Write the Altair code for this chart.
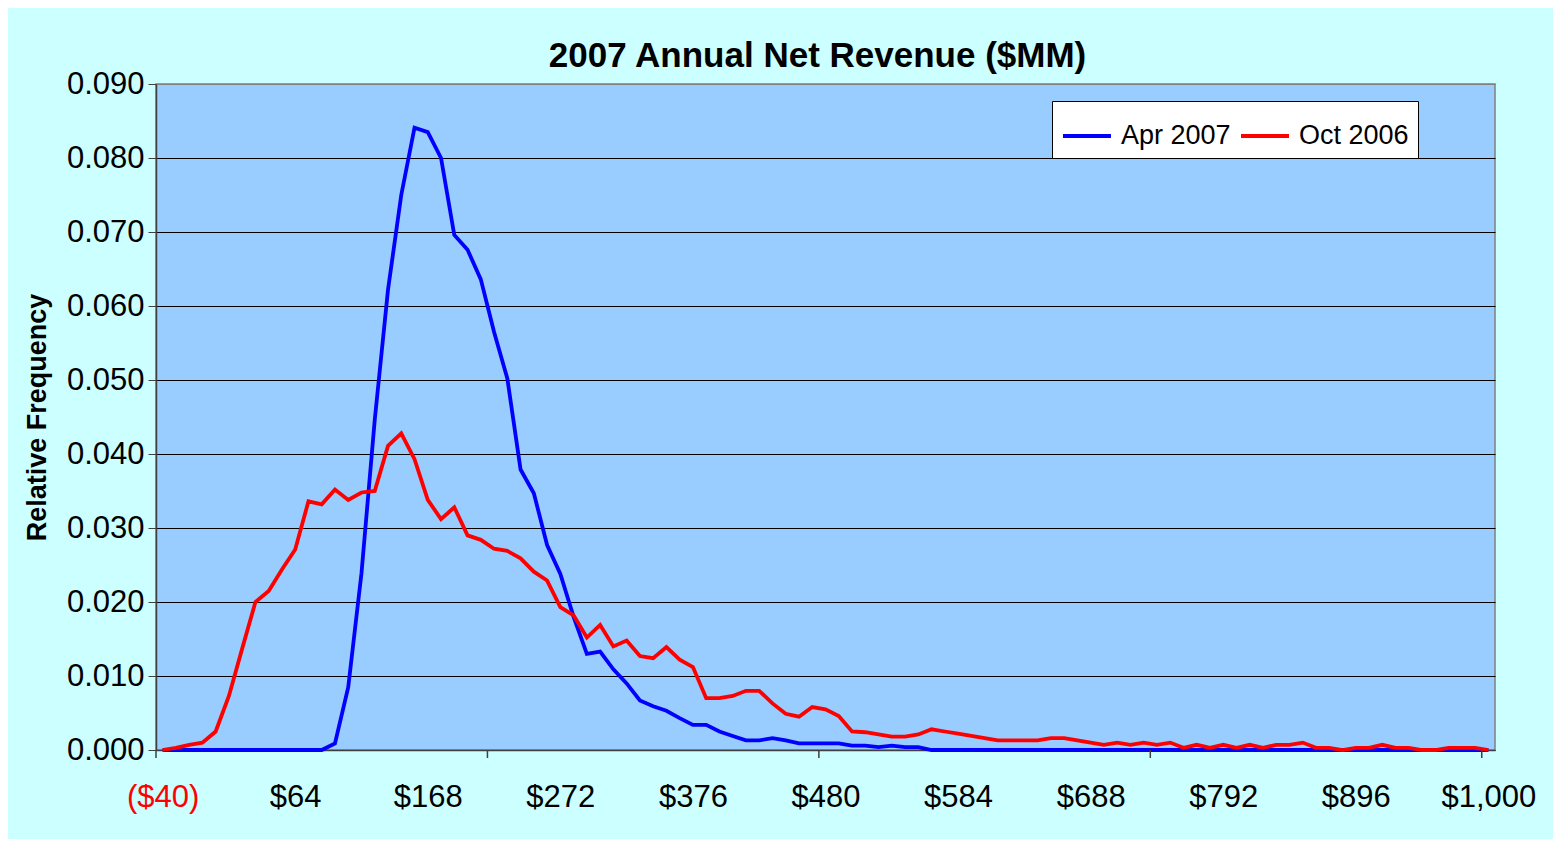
import altair as alt
import pandas as pd

# 101 Excel category bins, $10.4MM wide, starting at ($40)
bins = [round(-40 + 10.4 * i, 1) for i in range(101)]

apr_2007 = [
    0, 0, 0, 0, 0, 0, 0, 0, 0, 0,
    0, 0, 0, 0.0009, 0.0085, 0.0239, 0.0446, 0.0622, 0.0750, 0.0841,
    0.0835, 0.0800, 0.0696, 0.0676, 0.0636, 0.0565, 0.0502, 0.0379, 0.0347, 0.0277,
    0.0238, 0.0180, 0.0130, 0.0133, 0.0109, 0.0090, 0.0067, 0.0059, 0.0053, 0.0043,
    0.0034, 0.0034, 0.0025, 0.0019, 0.0013, 0.0013, 0.0016, 0.0013, 0.0009, 0.0009,
    0.0009, 0.0009, 0.0006, 0.0006, 0.0004, 0.0006, 0.0004, 0.0004, 0, 0,
    0, 0, 0, 0, 0, 0, 0, 0, 0, 0,
    0, 0, 0, 0, 0, 0, 0, 0, 0, 0,
    0, 0, 0, 0, 0, 0, 0, 0, 0, 0,
    0, 0, 0, 0, 0, 0, 0, 0, 0, 0,
    0,
]

oct_2006 = [
    0.0000, 0.0003, 0.0007, 0.0010, 0.0025, 0.0073, 0.0137, 0.0200, 0.0215, 0.0244,
    0.0271, 0.0336, 0.0332, 0.0352, 0.0338, 0.0348, 0.0350, 0.0411, 0.0428, 0.0393,
    0.0338, 0.0312, 0.0328, 0.0290, 0.0284, 0.0272, 0.0269, 0.0259, 0.0241, 0.0229,
    0.0193, 0.0182, 0.0152, 0.0169, 0.0140, 0.0148, 0.0127, 0.0124, 0.0139, 0.0122,
    0.0112, 0.0070, 0.0070, 0.0073, 0.0080, 0.0080, 0.0063, 0.0049, 0.0045, 0.0058,
    0.0055, 0.0046, 0.0025, 0.0024, 0.0021, 0.0018, 0.0018, 0.0021, 0.0028, 0.0025,
    0.0022, 0.0019, 0.0016, 0.0013, 0.0013, 0.0013, 0.0013, 0.0016, 0.0016, 0.0013,
    0.0010, 0.0007, 0.0010, 0.0007, 0.0010, 0.0007, 0.0010, 0.0003, 0.0007, 0.0003,
    0.0007, 0.0003, 0.0007, 0.0003, 0.0007, 0.0007, 0.0010, 0.0003, 0.0003, 0.0000,
    0.0003, 0.0003, 0.0007, 0.0003, 0.0003, 0.0000, 0.0000, 0.0003, 0.0003, 0.0003,
    0.0000,
]

series_names = ["Apr 2007", "Oct 2006"]
series_colors = ["#0000FF", "#FF0000"]

x_label_values = [-40, 64, 168, 272, 376, 480, 584, 688, 792, 896, 1000]
x_tick_marks = [-45.2, 214.8, 474.8, 734.8, 994.8]
y_tick_values = [0.0, 0.01, 0.02, 0.03, 0.04, 0.05, 0.06, 0.07, 0.08, 0.09]

assert len(apr_2007) == 101 and len(oct_2006) == 101

df = pd.DataFrame({
    "revenue": bins + bins,
    "freq": apr_2007 + oct_2006,
    "series": [series_names[0]] * 101 + [series_names[1]] * 101,
})
ticks_df = pd.DataFrame({"revenue": x_tick_marks})

FONT = "Liberation Sans"
W, H = 1339, 666

x_scale = alt.Scale(domain=[-45.2, 1005.2], nice=False, zero=False)
x_axis = alt.Axis(
    values=x_label_values,
    labelExpr="datum.value < 0 ? '($' + format(-datum.value, ',.0f') + ')' : '$' + format(datum.value, ',.0f')",
    labelColor=alt.condition("datum.value < 0", alt.value("#FF0000"), alt.value("#000000")),
    labelFont=FONT,
    labelFontSize=31,
    labelPadding=32,
    labelFlush=False,
    labelOverlap=False,
    ticks=False,
    grid=False,
    domainColor="#404040",
    domainWidth=1.5,
    title=None,
)

lines = alt.Chart(df).mark_line(strokeWidth=3.8).encode(
    x=alt.X("revenue:Q", scale=x_scale, axis=x_axis),
    y=alt.Y(
        "freq:Q",
        scale=alt.Scale(domain=[0, 0.09], nice=False, zero=True),
        axis=alt.Axis(
            values=y_tick_values,
            format=".3f",
            labelFont=FONT,
            labelFontSize=31,
            labelColor="#000000",
            labelPadding=4,
            labelFlush=False,
            labelOverlap=False,
            tickSize=8,
            tickColor="#404040",
            domainColor="#404040",
            domainWidth=1.5,
            grid=True,
            gridColor=alt.condition("datum.value >= 0.09", alt.value("#808080"), alt.value("#000000")),
            gridWidth=1.2,
            gridOpacity=1,
            title="Relative Frequency",
            titleFont=FONT,
            titleFontSize=27,
            titleFontWeight="bold",
            titleColor="#000000",
            titlePadding=15,
        ),
    ),
    color=alt.Color(
        "series:N",
        scale=alt.Scale(domain=series_names, range=series_colors),
        sort=series_names,
        legend=alt.Legend(
            orient="none",
            legendX=896,
            legendY=17,
            direction="horizontal",
            title=None,
            fillColor="#FFFFFF",
            strokeColor="#000000",
            padding=9,
            symbolType="stroke",
            symbolSize=2304,
            symbolStrokeWidth=3.8,
            labelFont=FONT,
            labelFontSize=27,
            labelColor="#000000",
            labelOffset=8,
            columnPadding=2,
        ),
    ),
)

tick_marks = alt.Chart(ticks_df).mark_rule(color="#404040", strokeWidth=1.5).encode(
    x=alt.X("revenue:Q", scale=x_scale, axis=x_axis),
    y=alt.value(H),
    y2=alt.value(H + 8),
)

chart = alt.layer(lines, tick_marks).properties(
    width=W,
    height=H,
    title=alt.Title(
        "2007 Annual Net Revenue ($MM)",
        font=FONT,
        fontSize=35,
        fontWeight="bold",
        color="#000000",
        anchor="middle",
        offset=8,
        dx=-8,
        dy=14,
    ),
    padding={"left": 148, "top": 76, "right": 58, "bottom": 89},
    autosize=alt.AutoSizeParams(type="none"),
    background="#CCFFFF",
).configure_view(
    fill="#99CCFF",
    stroke="#808080",
    strokeWidth=1.5,
)

chart.save("out.html", embed_options={"renderer": "svg", "actions": False})
